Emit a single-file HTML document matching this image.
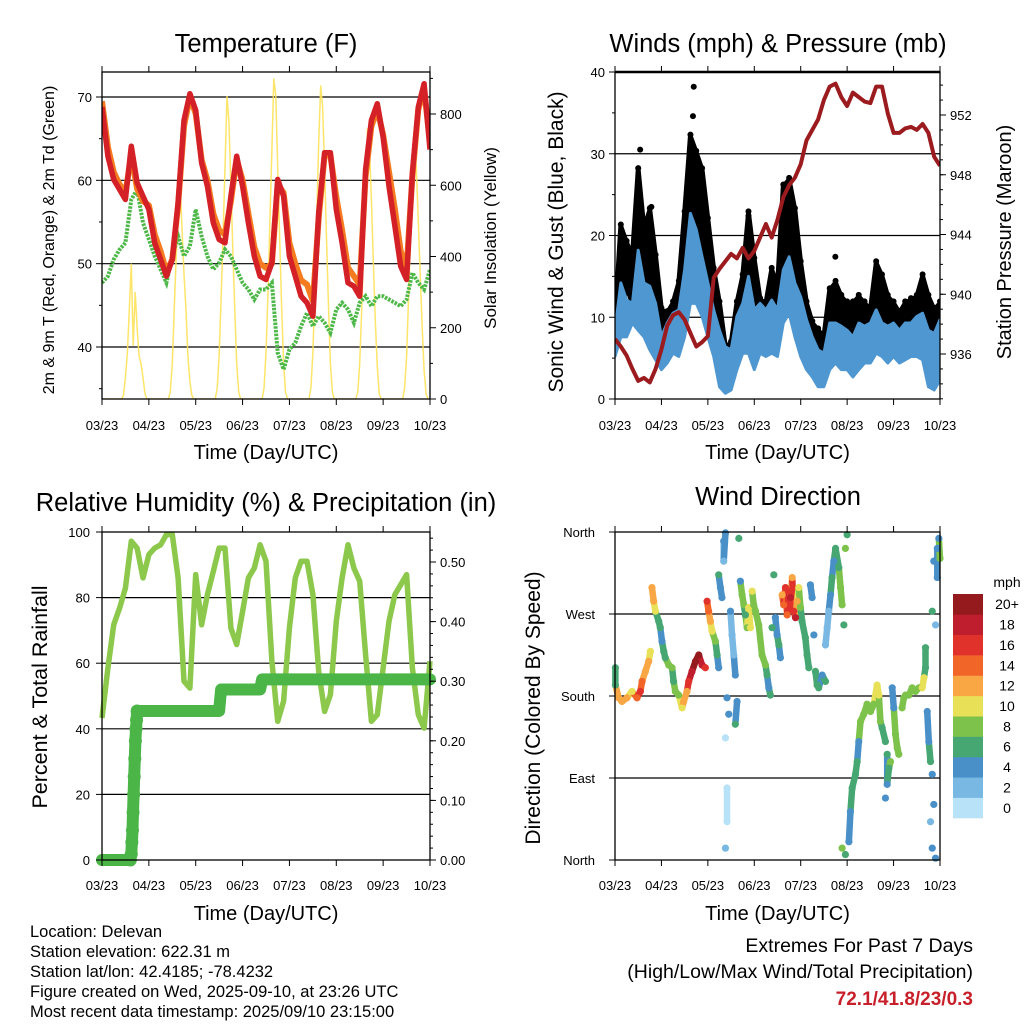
<!DOCTYPE html>
<html><head><meta charset="utf-8">
<style>
html,body{margin:0;padding:0;background:#fff;}
svg{display:block;font-family:"Liberation Sans",sans-serif;}
</style></head>
<body>
<svg id="chart" width="1024" height="1024" viewBox="0 0 1024 1024">
<rect x="0" y="0" width="1024" height="1024" fill="#fff"/>
</svg>
<script>
// ---------- data ----------
const xTickLabels = ['03/23','04/23','05/23','06/23','07/23','08/23','09/23','10/23'];
const hours3 = Array.from({length:57},(_,i)=>i*3);
const tempRed = [68.8,62.9,60.1,58.9,57.7,64.1,59.7,58.1,56.5,52.5,50.5,48.5,50.5,57.3,67.2,70.4,68.4,62.1,59.3,54.9,52.9,52.5,58.1,62.9,59.3,54.9,50.9,48.5,48.1,50.1,60.1,58.1,50.9,48.5,46.1,45.3,43.7,56.1,63.3,63.3,56.5,52.5,47.7,47.3,46.1,61.3,67.2,69.2,65.2,59.3,54.5,49.7,48.1,60.9,68.8,71.6,63.7];
const tempOrange = [69.5,64,61,59.5,58.5,63,59,57.5,57,53.5,51.5,49,50.5,57,66.5,70,68,62.5,60,56,54,53.5,57.5,62.5,60,56,52,50,49.5,50,59.5,58.5,52.5,50,48,47.5,45.5,55.5,63,63,58,54,49.5,48.5,47.5,60.5,66.5,68.5,65.5,61,56.5,51.5,49.5,60.5,68.5,71,64.5];
const dewGreen = [47.7,48.5,50.5,51.7,52.5,57.7,58.9,54.9,52.9,50.9,49.3,47.7,50.9,53.3,50.9,52.1,56.5,53.3,50.9,49.3,50.1,51.7,50.9,49.3,47.7,46.9,45.7,46.9,46.9,47.7,39.3,37.3,39.7,40.5,42.5,44.1,42.5,43.7,42.9,41.7,44.5,45.3,44.5,42.9,45.3,46.1,44.9,46.1,46.1,45.7,45.3,44.9,45.7,48.9,47.7,46.9,49.3];
const solarDays = [
 [10,60,130,250,380,150,300,200,120,100,60,15,0],
 [20,100,250,400,520,600,480,350,250,120,50,10,0],
 [30,120,280,450,650,850,780,600,420,250,100,20,0],
 [30,130,300,500,700,900,850,650,450,260,100,20,0],
 [30,130,300,520,720,880,820,650,450,260,100,20,0],
 [20,100,250,430,600,760,700,560,380,220,90,15,0],
 [30,120,280,450,620,700,650,500,350,200,80,15,0]];
const gustHi = [9.3,21.1,19.1,17.4,28.0,20.7,23.1,17.4,10.9,10.5,11.7,14.2,22.7,32.1,30.1,28.0,21.9,15.8,11.7,6.4,6.8,11.7,15.0,22.7,17.0,12.1,11.7,15.8,13.8,26.0,26.8,23.1,16.6,11.7,9.3,8.4,7.6,13.3,14.2,12.5,11.7,11.7,12.5,11.7,10.9,16.6,15.0,12.5,11.7,10.5,11.7,12.1,12.5,15.0,12.5,10.9,11.7];
const gustLo = [7.6,10.9,13.8,11.7,14.2,13.8,11.7,9.7,6.8,6.4,7.6,9.3,12.5,19.9,17.8,15.8,11.7,9.7,4.8,2.3,2.3,5.6,8.4,9.7,8.4,8.4,8.4,9.3,9.3,14.2,15.8,11.7,9.3,7.6,5.6,3.6,2.7,5.6,7.6,6.8,6.4,6.8,6.8,6.4,7.6,10.9,9.3,8.4,7.6,6.4,8.4,8.4,8.9,9.3,8.0,6.8,6.8];
const windHi = [8.4,14.2,12.1,11.7,18.2,14.2,13.8,11.7,7.6,9.3,10.5,10.9,15.8,22.7,20.7,17.4,14.2,10.9,8.4,6.4,6.0,10.1,11.7,15.0,10.9,11.7,10.9,12.1,10.9,15.8,17.4,14.2,12.5,9.7,7.6,6.0,5.6,9.3,9.3,8.9,8.4,7.6,9.3,8.9,9.3,10.9,9.3,8.9,9.3,8.4,9.3,9.3,10.1,10.5,8.4,8.0,9.7];
const windLo = [5.2,7.6,7.6,9.3,8.4,7.6,6.0,4.8,3.6,4.4,5.6,5.2,7.6,11.7,11.7,10.1,7.6,5.2,1.5,0.7,1.1,3.6,5.6,5.6,3.6,5.6,5.2,5.6,5.2,9.3,10.5,7.6,5.2,3.6,2.7,1.5,1.5,3.6,4.4,3.6,3.6,2.7,3.6,4.4,4.4,5.6,5.2,4.4,5.2,4.4,4.8,5.2,5.2,4.8,1.5,1.1,2.3];
const gustOutHours = [13,18.8,40.3,40.7,69,113.9];
const gustOutMph = [30.5,23.5,34.6,38.2,22.4,17.4];
const pressure = [937.0,936.5,935.9,935.0,934.2,934.4,934.1,935.0,936.3,937.9,938.6,938.8,938.3,937.4,936.5,936.8,937.2,941.1,941.7,942.2,942.7,942.4,943.1,942.4,942.9,943.8,944.7,943.8,945.0,946.5,947.3,947.8,948.7,950.3,951.0,951.7,953.0,953.9,954.1,953.2,952.6,953.5,953.2,952.9,952.8,953.9,953.9,952.1,950.8,950.8,951.1,951.2,951.0,951.4,950.8,949.2,948.6];
const rh = [43.3,58.5,71.7,76.8,82.9,97.2,95.1,86.0,93.1,95.1,96.1,99.2,99.2,86.0,54.5,52.4,87.0,71.7,80.9,88.0,95.1,95.1,70.7,65.7,75.8,86.0,89.0,96.1,91.1,60.6,42.3,48.4,70.7,86.0,91.1,91.1,80.9,57.5,45.3,50.4,72.8,86.0,96.1,89.0,85.0,62.6,42.3,44.3,58.5,72.8,80.9,83.9,87.0,58.5,44.3,40.2,60.6];
const precipHours = [0,14.5,15,15.3,15.6,15.9,16.2,16.5,16.8,17.1,17.4,17.7,18,60,61,81,82,168];
const precipIn = [0,0,0.01,0.03,0.05,0.08,0.11,0.14,0.17,0.2,0.22,0.235,0.25,0.25,0.286,0.286,0.303,0.303];
const dirHours = [0.2,0.2,1.9,3.6,6.2,8.8,11.4,13.1,14.0,15.7,17.4,18.3,19.1,20.0,20.9,22.6,23.4,24.3,25.2,26.0,27.8,29.5,30.3,31.2,32.9,34.7,35.5,37.2,38.1,39.8,41.6,43.3,45.0,46.7,47.6,48.4,49.3,50.2,51.9,52.8,53.6,53.6,54.5,55.3,56.2,56.2,57.1,57.9,58.8,57.1,57.9,57.9,57.1,59.7,60.5,61.4,62.2,63.1,62.2,64.0,64.8,65.7,66.6,67.4,68.3,69.1,70.0,70.9,71.7,72.6,74.3,76.0,77.8,78.6,79.5,80.3,81.2,82.1,82.9,83.8,84.7,85.5,86.4,87.2,88.1,89.0,89.8,90.7,91.6,92.4,93.3,94.1,95.0,95.9,96.7,98.4,99.3,100.2,101.0,101.9,102.8,103.6,104.5,105.3,107.1,108.8,108.8,109.7,110.5,111.4,112.2,113.1,114.0,115.7,116.6,117.4,118.3,119.1,120.0,117.4,119.1,120.9,121.7,122.6,124.3,125.2,126.0,126.9,128.6,130.3,132.1,133.8,135.5,136.4,137.2,138.1,139.8,140.7,141.6,142.4,143.3,144.1,145.0,145.9,146.7,148.4,149.3,150.2,151.9,153.6,155.3,157.1,158.8,159.7,160.5,160.5,161.4,162.2,163.1,164.0,164.8,163.1,164.0,165.7,164.8,166.6,167.4,168,166.6,164.0,165.7,139.8,140.7];
const dirDeg = [211,192,178,174,178,185,178,185,196,207,218,229,299,284,273,262,255,240,229,222,214,211,196,185,181,167,174,185,196,207,218,225,214,211,284,273,262,251,240,225,211,313,299,288,350,328,359,178,160,134,79,42,13,273,247,225,203,174,149,353,306,291,280,269,255,277,255,295,280,273,258,225,214,203,189,181,255,313,266,247,236,222,291,280,299,269,295,288,310,273,266,284,299,277,262,244,225,211,302,288,247,207,192,189,203,196,236,255,273,291,310,328,342,321,299,280,258,342,357,13,6,20,53,79,94,108,130,152,160,171,163,171,192,181,152,145,130,116,101,108,189,167,138,123,116,167,178,181,181,189,185,189,189,200,211,233,163,130,108,94,61,42,13,2,328,342,353,331,310,273,258,68,83];
const dirSpeed = [6,6,12,12,12,10,14,16,14,12,12,10,12,12,10,6,6,4,6,6,8,8,6,8,8,10,12,12,16,18,20,20,18,16,16,14,12,10,8,6,4,6,4,4,4,2,4,4,4,0,0,0,2,4,2,2,4,4,6,6,4,8,8,6,8,10,10,10,8,8,8,8,8,6,4,6,6,6,4,4,6,4,12,14,16,14,16,18,12,16,18,12,10,8,6,6,6,6,4,4,4,6,6,6,4,6,2,2,2,4,6,4,6,6,8,8,6,8,6,8,6,4,4,6,6,6,4,8,8,8,8,8,10,10,8,6,6,6,6,8,4,4,8,8,8,8,8,8,8,8,8,8,10,10,6,6,4,4,6,4,4,2,4,4,4,4,4,8,4,6,2,4,4];
const speedLabels = ['0','2','4','6','8','10','12','14','16','18','20+'];
const speedColors = ['#b8e2f7','#7ab8e4','#4a90c8','#47a772','#7dc24b','#e8e057','#f9a744','#f26529','#e0312b','#be1e2d','#941a1d'];

// ---------- helpers ----------
const NS='http://www.w3.org/2000/svg';
const svg=document.getElementById('chart');
function mk(tag,attrs,parent){const e=document.createElementNS(NS,tag);for(const k in attrs)e.setAttribute(k,attrs[k]);(parent||svg).appendChild(e);return e;}
function txt(s,x,y,size,anchor,parent,extra){const e=mk('text',Object.assign({x:x,y:y,'font-size':size,'text-anchor':anchor||'middle',fill:'#000'},extra||{}),parent);e.textContent=s;return e;}
function lin(d0,d1,r0,r1){return v=>r0+(v-d0)*(r1-r0)/(d1-d0);}
function pts(xs,ys,xf,yf){return xs.map((x,i)=>xf(x).toFixed(1)+','+yf(ys[i]).toFixed(1)).join(' ');}

function panelFrame(name){
  const g=mk('g',{});
  
  
  return g;
}
function xAxis(g,x0,x1,y0,y1,labOff){
  const xf=lin(0,168,x0,x1);
  xTickLabels.forEach((lab,i)=>{
    const x=xf(i*24);
    mk('line',{x1:x,y1:y1,x2:x,y2:y1+6,stroke:'#000','stroke-width':1},g);
    mk('line',{x1:x,y1:y0,x2:x,y2:y0-6,stroke:'#000','stroke-width':1},g);
    const t=txt(lab,x,y1+labOff,13,'middle',g);
    
    
  });
  const tt=txt('Time (Day/UTC)',(x0+x1)/2,y1+60,20,'middle',g);
  
  
}
function box(g,x0,y0,x1,y1){mk('rect',{x:x0,y:y0,width:x1-x0,height:y1-y0,fill:'none',stroke:'#000','stroke-width':1.3},g);}
function clip(id,x0,y0,x1,y1){const c=mk('clipPath',{id:id});mk('rect',{x:x0,y:y0,width:x1-x0,height:y1-y0},c);}

// ================= Panel 1: Temperature =================
(function(){
  const x0=102,x1=430,y0=72,y1=399;
  const g=panelFrame('temperature-panel');
  clip('c1',x0,y0,x1,y1);
  const xf=lin(0,168,x0,x1), yf=lin(40,70,347,97), sf=lin(0,800,399,114);
  [40,50,60,70].forEach(v=>mk('line',{x1:x0,x2:x1,y1:yf(v),y2:yf(v),stroke:'#000','stroke-width':1.2},g));
  const pg=mk('g',{'clip-path':'url(#c1)'},g);
  const sh=[],sv=[];
  solarDays.forEach((d,k)=>{ if(k===0){sh.push(0);sv.push(0);} sh.push(24*k+10);sv.push(0); d.forEach((v,j)=>{sh.push(24*k+11+j);sv.push(v);}); sh.push(24*k+24);sv.push(0);});
  const sl=mk('polyline',{points:pts(sh,sv,xf,sf),fill:'none',stroke:'#fde25a','stroke-width':1.5,opacity:0.9},pg);
  
  
  const gl=mk('polyline',{points:pts(hours3,dewGreen,xf,yf),fill:'none',stroke:'#4db848','stroke-width':4,'stroke-dasharray':'2.5 1.2'},pg);
  
  
  const ol=mk('polyline',{points:pts(hours3,tempOrange,xf,yf),fill:'none',stroke:'#f47b20','stroke-width':6,'stroke-linejoin':'round'},pg);
  
  
  const rl=mk('polyline',{points:pts(hours3,tempRed,xf,yf),fill:'none',stroke:'#d42027','stroke-width':5.5,'stroke-linejoin':'round'},pg);
  
  
  box(g,x0,y0,x1,y1);
  [40,50,60,70].forEach(v=>{mk('line',{x1:x0-6,x2:x0,y1:yf(v),y2:yf(v),stroke:'#000'},g);txt(String(v),x0-10,yf(v)+5,13,'end',g);});
  [35,45,55,65].forEach(v=>mk('line',{x1:x0-3,x2:x0,y1:yf(v),y2:yf(v),stroke:'#000'},g));
  [0,200,400,600,800].forEach(v=>{mk('line',{x1:x1,x2:x1+6,y1:sf(v),y2:sf(v),stroke:'#000'},g);txt(String(v),x1+10,sf(v)+5,13,'start',g);});
  [100,300,500,700,900].forEach(v=>mk('line',{x1:x1,x2:x1+3,y1:sf(v),y2:sf(v),stroke:'#000'},g));
  xAxis(g,x0,x1,y0,y1,31);
  txt('Temperature (F)',266,52,25.5,'middle',g);
  txt('2m & 9m T (Red, Orange) & 2m Td (Green)',0,0,16,'middle',g,{transform:'translate(54,240) rotate(-90)'});
  txt('Solar Insolation (Yellow)',0,0,17,'middle',g,{transform:'translate(496,238) rotate(-90)'});
})();

// ================= Panel 2: Winds =================
(function(){
  const x0=615,x1=940,y0=72,y1=399;
  const g=panelFrame('winds-panel');
  clip('c2',x0,y0,x1,y1+4);
  const xf=lin(0,168,x0,x1), yf=lin(0,40,399,72), pf=lin(936,952,354,115);
  [10,20,30].forEach(v=>mk('line',{x1:x0,x2:x1,y1:yf(v),y2:yf(v),stroke:'#000','stroke-width':1.2},g));
  const pg=mk('g',{'clip-path':'url(#c2)'},g);
  const rev=a=>a.slice().reverse();
  const gb=mk('polygon',{points:pts(hours3.concat(rev(hours3)),gustHi.concat(rev(gustLo)),xf,yf),fill:'#000',stroke:'#000','stroke-width':5,'stroke-linejoin':'round'},pg);
  
  
  hours3.forEach((h,i)=>{const c=mk('circle',{cx:xf(h),cy:yf(gustHi[i])-2,r:3,fill:'#000'},pg);
    
    });
  gustOutHours.forEach((h,i)=>{const c=mk('circle',{cx:xf(h),cy:yf(gustOutMph[i]),r:3,fill:'#000'},pg);
    
    });
  const wb=mk('polygon',{points:pts(hours3.concat(rev(hours3)),windHi.concat(rev(windLo)),xf,yf),fill:'#4f97d1',stroke:'#4f97d1','stroke-width':3,'stroke-linejoin':'round'},pg);
  
  
  const pl=mk('polyline',{points:pts(hours3,pressure,xf,pf),fill:'none',stroke:'#9b1b1e','stroke-width':4,'stroke-linejoin':'round'},pg);
  
  
  box(g,x0,y0,x1,y1);
  mk('line',{x1:x0,x2:x1,y1:y0,y2:y0,stroke:'#000','stroke-width':2.5},g);
  [0,10,20,30,40].forEach(v=>{mk('line',{x1:x0-6,x2:x0,y1:yf(v),y2:yf(v),stroke:'#000'},g);txt(String(v),x0-10,yf(v)+5,13,'end',g);});
  [5,15,25,35].forEach(v=>mk('line',{x1:x0-3,x2:x0,y1:yf(v),y2:yf(v),stroke:'#000'},g));
  [936,940,944,948,952].forEach(v=>{mk('line',{x1:x1,x2:x1+6,y1:pf(v),y2:pf(v),stroke:'#000'},g);txt(String(v),x1+10,pf(v)+5,13,'start',g);});
  for(let v=933;v<=954;v++) mk('line',{x1:x1,x2:x1+3,y1:pf(v),y2:pf(v),stroke:'#000'},g);
  xAxis(g,x0,x1,y0,y1,31);
  txt('Winds (mph) & Pressure (mb)',778,52,25.5,'middle',g);
  txt('Sonic Wind & Gust (Blue, Black)',0,0,21,'middle',g,{transform:'translate(563,242) rotate(-90)'});
  txt('Station Pressure (Maroon)',0,0,20,'middle',g,{transform:'translate(1011,242) rotate(-90)'});
})();

// ================= Panel 3: RH & Precip =================
(function(){
  const x0=102,x1=430,y0=532,y1=860;
  const g=panelFrame('humidity-precip-panel');
  clip('c3',x0-8,y0,x1+8,y1+8);
  const xf=lin(0,168,x0,x1), yf=lin(0,100,860,532), pf=lin(0,0.5,860,562);
  [20,40,60,80].forEach(v=>mk('line',{x1:x0,x2:x1,y1:yf(v),y2:yf(v),stroke:'#000','stroke-width':1.2},g));
  const pg=mk('g',{'clip-path':'url(#c3)'},g);
  const rl=mk('polyline',{points:pts(hours3,rh,xf,yf),fill:'none',stroke:'#8cc84b','stroke-width':5.5,'stroke-linejoin':'round'},pg);
  
  
  const pl=mk('polyline',{points:pts(precipHours,precipIn,xf,pf),fill:'none',stroke:'#4bb548','stroke-width':12,'stroke-linejoin':'round','stroke-linecap':'round'},pg);
  
  
  precipHours.forEach((h,i)=>{ if(i>0&&i<13){const c=mk('circle',{cx:xf(h),cy:pf(precipIn[i]),r:6.5,fill:'#4bb548'},pg);
    
    }});
  box(g,x0,y0,x1,y1);
  [0,20,40,60,80,100].forEach(v=>{mk('line',{x1:x0-6,x2:x0,y1:yf(v),y2:yf(v),stroke:'#000'},g);txt(String(v),x0-12,yf(v)+5,13,'end',g);});
  [0,0.1,0.2,0.3,0.4,0.5].forEach(v=>{mk('line',{x1:x1,x2:x1+6,y1:pf(v),y2:pf(v),stroke:'#000'},g);txt(v.toFixed(2),x1+10,pf(v)+5,13,'start',g);});
  for(let v=0;v<=0.55;v+=0.02) mk('line',{x1:x1,x2:x1+3,y1:pf(v),y2:pf(v),stroke:'#000'},g);
  xAxis(g,x0,x1,y0,y1,30);
  txt('Relative Humidity (%) & Precipitation (in)',266,511,25.5,'middle',g);
  txt('Percent & Total Rainfall',0,0,21.5,'middle',g,{transform:'translate(47,697) rotate(-90)'});
})();

// ================= Panel 4: Wind direction =================
(function(){
  const x0=615,x1=940,y0=532,y1=860;
  const g=panelFrame('wind-direction-panel');
  const xf=lin(0,168,x0,x1), yf=lin(0,360,860,532);
  [90,180,270].forEach(v=>mk('line',{x1:x0,x2:x1,y1:yf(v),y2:yf(v),stroke:'#000','stroke-width':1.2},g));
  const cidx=s=>Math.max(0,Math.min(10,Math.round(s/2)));
  // trails between consecutive nearby observations
  const order=dirHours.map((h,i)=>i).sort((a,b)=>dirHours[a]-dirHours[b]);
  for(let k=1;k<order.length;k++){
    const a=order[k-1],b=order[k];
    if(dirHours[b]-dirHours[a]<3.5 && Math.abs(dirDeg[b]-dirDeg[a])<40){
      const s=mk('line',{x1:xf(dirHours[a]),y1:yf(dirDeg[a]),x2:xf(dirHours[b]),y2:yf(dirDeg[b]),stroke:speedColors[cidx(dirSpeed[b])],'stroke-width':6.5,'stroke-linecap':'round'},g);
      
      
    }
  }
  dirHours.forEach((h,i)=>{
    const c=mk('circle',{cx:xf(h),cy:yf(dirDeg[i]),r:3.6,fill:speedColors[cidx(dirSpeed[i])]},g);
    
    
  });
  box(g,x0,y0,x1,y1);
  const dl=['North','East','South','West','North'];
  [0,90,180,270,360].forEach((v,i)=>{mk('line',{x1:x0-6,x2:x0,y1:yf(v),y2:yf(v),stroke:'#000'},g);txt(dl[i],x0-20,yf(v)+5,13,'end',g);});
  xAxis(g,x0,x1,y0,y1,30);
  txt('Wind Direction',778,505,25.5,'middle',g);
  txt('Direction (Colored By Speed)',0,0,21,'middle',g,{transform:'translate(540,708) rotate(-90)'});
  const cb=mk('g',{},g);
  
  
  const bh=224/11;
  speedColors.forEach((col,i)=>{
    const y=818-(i+1)*bh;
    mk('rect',{x:953,y:y,width:30,height:bh+0.3,fill:col},cb);
    txt(speedLabels[i],1007,y+bh/2+5,14,'middle',cb);
  });
  txt('mph',1007,587,14,'middle',cb);
})();

// ================= Footer text =================
(function(){
  const g=mk('g',{});
  
  
  ['Location: Delevan','Station elevation: 622.31 m','Station lat/lon: 42.4185; -78.4232','Figure created on Wed, 2025-09-10, at 23:26 UTC','Most recent data timestamp: 2025/09/10 23:15:00'].forEach((s,i)=>txt(s,30,937+i*20,16.5,'start',g));
  const e=mk('g',{});
  
  
  txt('Extremes For Past 7 Days',973,952,19.5,'end',e);
  txt('(High/Low/Max Wind/Total Precipitation)',973,978,19.5,'end',e);
  txt('72.1/41.8/23/0.3',973,1005,19,'end',e,{fill:'#c8202a','font-weight':'bold'});
})();
</script>
</body></html>
